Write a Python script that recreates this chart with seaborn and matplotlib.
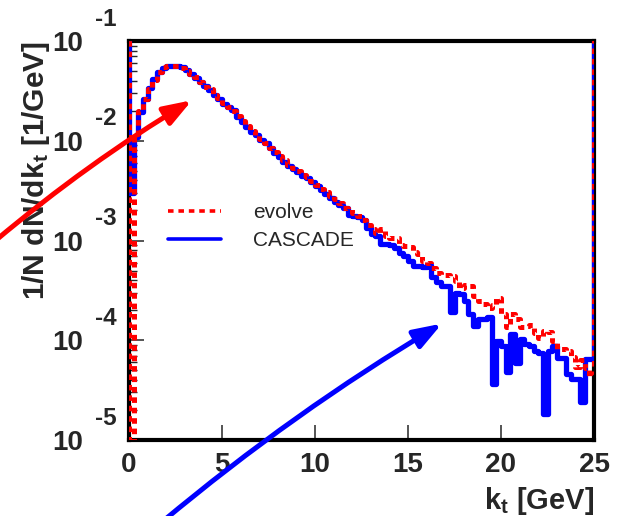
import numpy as np
import pandas as pd
import matplotlib
matplotlib.use("Agg")
import matplotlib.pyplot as plt
import seaborn as sns
from matplotlib import transforms
from matplotlib.ticker import LogLocator, NullLocator, NullFormatter

# k_t spectra, 100 bins of 0.25 GeV between 0 and 25 GeV
kt_lo, kt_hi, kt_step = 0.0, 25.0, 0.25

cascade_vals = [
    3.0e-3, 1.08e-2, 1.93e-2, 2.61e-2, 3.37e-2, 4.15e-2, 4.88e-2, 5.36e-2, 5.61e-2, 5.61e-2,
    5.61e-2, 5.48e-2, 5.12e-2, 4.66e-2, 4.25e-2, 3.87e-2, 3.53e-2, 3.22e-2, 2.86e-2, 2.61e-2,
    2.33e-2, 2.17e-2, 2.03e-2, 1.72e-2, 1.53e-2, 1.37e-2, 1.22e-2, 1.14e-2, 1.01e-2, 9.44e-3,
    8.41e-3, 7.48e-3, 6.82e-3, 6.08e-3, 5.54e-3, 5.18e-3, 4.82e-3, 4.40e-3, 4.20e-3, 3.83e-3,
    3.49e-3, 3.18e-3, 2.90e-3, 2.64e-3, 2.41e-3, 2.25e-3, 2.10e-3, 1.82e-3, 1.78e-3, 1.74e-3,
    1.59e-3, 1.32e-3, 1.15e-3, 1.10e-3, 9.12e-4, 9.12e-4, 8.91e-4, 8.32e-4, 7.57e-4, 7.06e-4,
    6.30e-4, 5.61e-4, 5.61e-4, 5.48e-4, 5.74e-4, 4.35e-4, 3.87e-4, 3.53e-4, 3.53e-4, 1.93e-4,
    3.00e-4, 2.93e-4, 2.49e-4, 1.85e-4, 1.40e-4, 1.64e-4, 1.64e-4, 1.72e-4, 3.66e-5, 9.89e-5,
    8.81e-5, 4.82e-5, 1.16e-4, 5.94e-5, 1.04e-4, 9.23e-5, 8.81e-5, 7.84e-5, 7.48e-5, 1.82e-5,
    7.84e-5, 8.81e-5, 6.67e-5, 6.67e-5, 4.60e-5, 4.10e-5, 4.10e-5, 2.41e-5, 6.52e-5, 6.52e-5,
]

evolve_vals = [
    1.0e-7, 1.16e-2, 1.98e-2, 2.61e-2, 3.30e-2, 4.06e-2, 4.88e-2, 5.48e-2, 5.61e-2, 5.61e-2,
    5.61e-2, 5.36e-2, 4.99e-2, 4.66e-2, 4.35e-2, 3.87e-2, 3.45e-2, 3.30e-2, 2.86e-2, 2.67e-2,
    2.38e-2, 2.17e-2, 1.98e-2, 1.76e-2, 1.57e-2, 1.40e-2, 1.25e-2, 1.14e-2, 1.04e-2, 9.44e-3,
    8.41e-3, 7.66e-3, 6.98e-3, 6.37e-3, 5.67e-3, 5.30e-3, 4.94e-3, 4.50e-3, 4.30e-3, 3.92e-3,
    3.57e-3, 3.26e-3, 3.03e-3, 2.77e-3, 2.58e-3, 2.36e-3, 2.10e-3, 2.05e-3, 1.87e-3, 1.78e-3,
    1.59e-3, 1.42e-3, 1.29e-3, 1.20e-3, 1.29e-3, 1.12e-3, 1.05e-3, 1.07e-3, 8.91e-4, 8.71e-4,
    8.51e-4, 7.75e-4, 7.40e-4, 6.30e-4, 6.01e-4, 5.24e-4, 4.77e-4, 4.55e-4, 4.55e-4, 4.45e-4,
    3.96e-4, 3.37e-4, 3.61e-4, 3.53e-4, 2.80e-4, 2.49e-4, 2.33e-4, 2.12e-4, 2.28e-4, 2.67e-4,
    1.85e-4, 1.37e-4, 1.85e-4, 1.64e-4, 1.37e-4, 1.40e-4, 1.43e-4, 1.19e-4, 1.06e-4, 1.25e-4,
    1.22e-4, 9.89e-5, 8.22e-5, 8.22e-5, 7.84e-5, 6.82e-5, 5.42e-5, 6.37e-5, 5.30e-5, 4.40e-5,
]

# under/overflow bins are off scale in the original, giving the vertical lines at both edges
edge_bin = 1.0

y_decades = [1e-5, 1e-4, 1e-3, 1e-2, 1e-1]

sns.set_style("ticks")
plt.rcParams["font.family"] = ["Liberation Sans", "DejaVu Sans"]
plt.rcParams["mathtext.fontset"] = "custom"
plt.rcParams["mathtext.rm"] = "Liberation Sans:bold"
plt.rcParams["mathtext.it"] = "Liberation Sans:bold"
plt.rcParams["mathtext.bf"] = "Liberation Sans:bold"
plt.rcParams["lines.scale_dashes"] = False

fig = plt.figure(figsize=(6.17, 5.16), dpi=100)
ax = fig.add_axes([129 / 617, 76 / 516, 465 / 617, 399 / 516])

n_bins = len(cascade_vals) + 2
centers = kt_lo - kt_step / 2 + kt_step * np.arange(n_bins)
df = pd.DataFrame({
    "kt": centers,
    "cascade": [edge_bin] + cascade_vals + [edge_bin],
    "evolve": [edge_bin] + evolve_vals + [edge_bin],
})
brange = (kt_lo - kt_step, kt_hi + kt_step)

sns.histplot(data=df, x="kt", weights="cascade", binwidth=kt_step, binrange=brange,
             element="step", fill=False, color="#0000ff", linewidth=3.8,
             zorder=3, ax=ax)
sns.histplot(data=df, x="kt", weights="evolve", binwidth=kt_step, binrange=brange,
             element="step", fill=False, color="#ff0000", linewidth=3.6,
             dashes=(4, 3.5), zorder=3, ax=ax)

ax.set_yscale("log")
ax.set_xlim(kt_lo, kt_hi)
ax.set_ylim(y_decades[0], y_decades[-1])

# frame and ticks, ROOT like
for s in ax.spines.values():
    s.set_linewidth(3)
    s.set_color("black")
ax.set_xticks([0, 5, 10, 15, 20, 25])
ax.xaxis.set_minor_locator(NullLocator())
ax.set_yticks(y_decades)
ax.set_yticklabels(["10"] * len(y_decades))
ax.yaxis.set_minor_locator(LogLocator(base=10, subs=np.arange(2, 10)))
ax.yaxis.set_minor_formatter(NullFormatter())
ax.tick_params(axis="both", which="major", direction="in", length=11, width=1.1,
               labelsize=20, top=False, right=False)
ax.tick_params(axis="x", pad=9)
ax.tick_params(axis="y", pad=33)
ax.tick_params(axis="y", which="minor", direction="in", length=6, width=1.0, right=False)
for lab in ax.get_xticklabels() + ax.get_yticklabels():
    lab.set_fontweight("bold")

# exponents sit up and to the right of each "10"
exp_trans = transforms.offset_copy(
    transforms.blended_transform_factory(ax.transAxes, ax.transData),
    fig=fig, x=0, y=22, units="dots")
for v in y_decades:
    ax.text(-0.026, v, str(int(round(np.log10(v)))), transform=exp_trans,
            ha="right", va="center", fontsize=17.5, fontweight="bold")

ax.set_xlabel(r"k$_t$ [GeV]", loc="right", fontsize=21, fontweight="bold", labelpad=5)
ax.set_ylabel(r"1/N dN/dk$_t$ [1/GeV]", loc="top", fontsize=21.5, fontweight="bold",
              labelpad=0)

lines = ax.get_lines()
ax.legend(handles=[lines[1], lines[0]], labels=["evolve", "CASCADE"],
          loc="upper left", bbox_to_anchor=(0.067, 0.615), borderaxespad=0,
          frameon=False, fontsize=15, handlelength=2.5, handletextpad=1.55,
          labelspacing=0.45)
for lh in ax.get_legend().get_lines():
    lh.set_linewidth(2.6)

# pointer arrows
ax.annotate("", xy=(3.39, 2.55e-2), xycoords="data",
            xytext=(-5, 275), textcoords="figure pixels",
            arrowprops=dict(arrowstyle="-|>,head_length=0.85,head_width=0.3",
                            color="#ff0000", lw=3.6, mutation_scale=20,
                            shrinkA=0, shrinkB=0,
                            connectionstyle="arc3,rad=-0.04"),
            annotation_clip=False, zorder=5)
ax.annotate("", xy=(16.83, 1.47e-4), xycoords="data",
            xytext=(162, -6), textcoords="figure pixels",
            arrowprops=dict(arrowstyle="-|>,head_length=0.85,head_width=0.3",
                            color="#0000ff", lw=3.6, mutation_scale=20,
                            shrinkA=0, shrinkB=0,
                            connectionstyle="arc3,rad=-0.04"),
            annotation_clip=False, zorder=5)

fig.savefig("out.png", dpi=100)
